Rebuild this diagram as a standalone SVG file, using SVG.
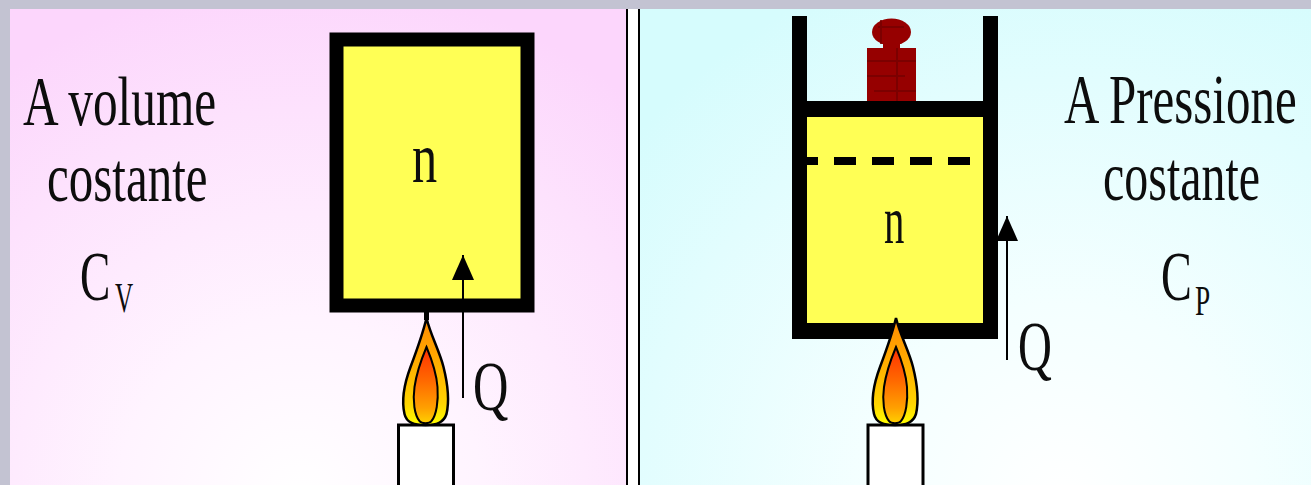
<svg xmlns="http://www.w3.org/2000/svg" width="1311" height="485" viewBox="0 0 1311 485">
  <defs>
    <radialGradient id="bgPink" cx="300" cy="500" r="520" gradientUnits="userSpaceOnUse">
      <stop offset="0" stop-color="#ffffff"/>
      <stop offset="0.35" stop-color="#fff4ff"/>
      <stop offset="0.75" stop-color="#fde2fd"/>
      <stop offset="1" stop-color="#fcd6fc"/>
    </radialGradient>
    <radialGradient id="bgCyan" cx="1060" cy="500" r="560" gradientUnits="userSpaceOnUse">
      <stop offset="0" stop-color="#ffffff"/>
      <stop offset="0.35" stop-color="#f4ffff"/>
      <stop offset="0.75" stop-color="#e2fdfe"/>
      <stop offset="1" stop-color="#d6fcfd"/>
    </radialGradient>
    <linearGradient id="flameOuter" x1="0" y1="0" x2="0" y2="1">
      <stop offset="0" stop-color="#ff8a00"/>
      <stop offset="0.45" stop-color="#ffb000"/>
      <stop offset="0.8" stop-color="#ffd400"/>
      <stop offset="1" stop-color="#ffff00"/>
    </linearGradient>
    <linearGradient id="flameInner" x1="0" y1="0" x2="0" y2="1">
      <stop offset="0" stop-color="#ff3000"/>
      <stop offset="0.45" stop-color="#ff6a00"/>
      <stop offset="0.8" stop-color="#ffa000"/>
      <stop offset="1" stop-color="#ffd000"/>
    </linearGradient>
    <marker id="arrowHead" viewBox="0 0 25 22" refX="25" refY="11" markerWidth="25" markerHeight="22" markerUnits="userSpaceOnUse" orient="auto">
      <path d="M0,0 L25,11 L0,22 Z" fill="#000"/>
    </marker>
    <!-- candle with flame, drawn around (0,0) = top centre of the candle -->
    <g id="candle">
      <rect x="-27" y="0" width="55" height="70" fill="#ffffff" stroke="#000" stroke-width="3"/>
      <path d="M1,-107 C5,-90 14,-74 18,-58 C22,-42 24,-24 21,-11 C18,-2 11,0 0,0 C-11,0 -19,-2 -21,-11 C-24,-24 -21,-42 -15,-58 C-9,-74 -3,-90 1,-107 Z" fill="url(#flameOuter)" stroke="#000" stroke-width="2.5"/>
      <path d="M1,-78 C6,-66 11,-52 12,-38 C13,-24 11,-10 6,-4 C4,-1 -4,-1 -6,-4 C-11,-10 -13,-24 -11,-38 C-9,-52 -4,-66 1,-78 Z" fill="url(#flameInner)" stroke="#000" stroke-width="2"/>
    </g>
  </defs>
  <style>
    .lbl { font-family: "Liberation Serif", "Times New Roman", serif; fill: #0d0d0d; }
    .wall { fill: #000; }
    .gas { fill: #ffff55; }
  </style>

  <!-- frame and backgrounds -->
  <rect x="0" y="0" width="1311" height="485" fill="#c3c3d2"/>
  <rect x="10" y="9" width="1301" height="476" fill="#ffffff"/>
  <rect x="10" y="9" width="616" height="476" fill="url(#bgPink)"/>
  <rect x="640" y="9" width="671" height="476" fill="url(#bgCyan)"/>
  <rect x="626" y="9" width="2" height="476" fill="#000"/>
  <rect x="638" y="9" width="2" height="476" fill="#000"/>

  <!-- constant volume vessel -->
  <g id="vessel-cv">
    <rect x="336.5" y="39.5" width="191" height="266" class="gas" stroke="#000" stroke-width="14"/>
    <text class="lbl" font-size="72" transform="translate(412,182) scale(0.7,1)">n</text>
  </g>

  <g id="burner-cv">
    <rect x="424" y="312" width="5" height="8" fill="#000"/>
    <use href="#candle" x="425.5" y="425"/>
  </g>

  <!-- serif labels, horizontally condensed -->
  <g id="label-cv">
    <text class="lbl" font-size="70" transform="translate(23,125) scale(0.705,1)">A volume</text>
    <text class="lbl" font-size="70" transform="translate(47,201) scale(0.7,1)">costante</text>
    <text class="lbl" font-size="70" transform="translate(80,300) scale(0.65,1)">C</text>
    <text class="lbl" font-size="42" transform="translate(115,312) scale(0.6,1)">V</text>
    <text class="lbl" font-size="70" transform="translate(473,410) scale(0.7,1)">Q</text>
  </g>

  <!-- constant pressure cylinder with loaded piston -->
  <g id="cylinder-cp">
    <rect x="807" y="117" width="176" height="206" class="gas"/>
    <line x1="807" y1="161" x2="983" y2="161" stroke="#000" stroke-width="8" stroke-dasharray="22 16" stroke-dashoffset="11"/>
    <rect x="792" y="16" width="15" height="323" class="wall"/>
    <rect x="983" y="16" width="15" height="323" class="wall"/>
    <rect x="792" y="323" width="206" height="16" class="wall"/>
    <rect id="piston" x="807" y="101" width="176" height="16" class="wall"/>
    <text class="lbl" font-size="68" transform="translate(884,243) scale(0.6,1)">n</text>
  </g>

  <g id="weight">
    <ellipse cx="891.5" cy="32" rx="19.5" ry="13.5" fill="#960000"/>
    <rect x="883" y="42" width="17" height="7" fill="#960000"/>
    <rect x="867" y="48" width="49" height="53" fill="#960000"/>
    <g fill="#760000" opacity="0.8">
      <rect x="878" y="26" width="26" height="2"/>
      <rect x="867" y="60" width="49" height="2"/>
      <rect x="867" y="75" width="38" height="2"/>
      <rect x="874" y="90" width="42" height="2"/>
      <rect x="896" y="48" width="2" height="53"/>
      <rect x="880" y="20" width="2" height="24"/>
    </g>
  </g>

  <g id="burner-cp">
    <rect x="893" y="338" width="4" height="4" fill="#000"/>
    <use href="#candle" x="895" y="425"/>
  </g>

  <g id="label-cp">
    <text class="lbl" font-size="70" transform="translate(1064,123) scale(0.7,1)">A Pressione</text>
    <text class="lbl" font-size="70" transform="translate(1103,200) scale(0.685,1)">costante</text>
    <text class="lbl" font-size="70" transform="translate(1161,300) scale(0.66,1)">C</text>
    <text class="lbl" font-size="42" transform="translate(1195,315) scale(0.65,1)">P</text>
    <text class="lbl" font-size="70" transform="translate(1018,370) scale(0.67,1)">Q</text>
  </g>

  <!-- heat flow arrows -->
  <g id="connectors" stroke="#000" stroke-width="2" fill="none">
    <line x1="463" y1="398" x2="463" y2="255" marker-end="url(#arrowHead)"/>
    <line x1="1007" y1="360" x2="1007" y2="216" marker-end="url(#arrowHead)"/>
  </g>
</svg>
